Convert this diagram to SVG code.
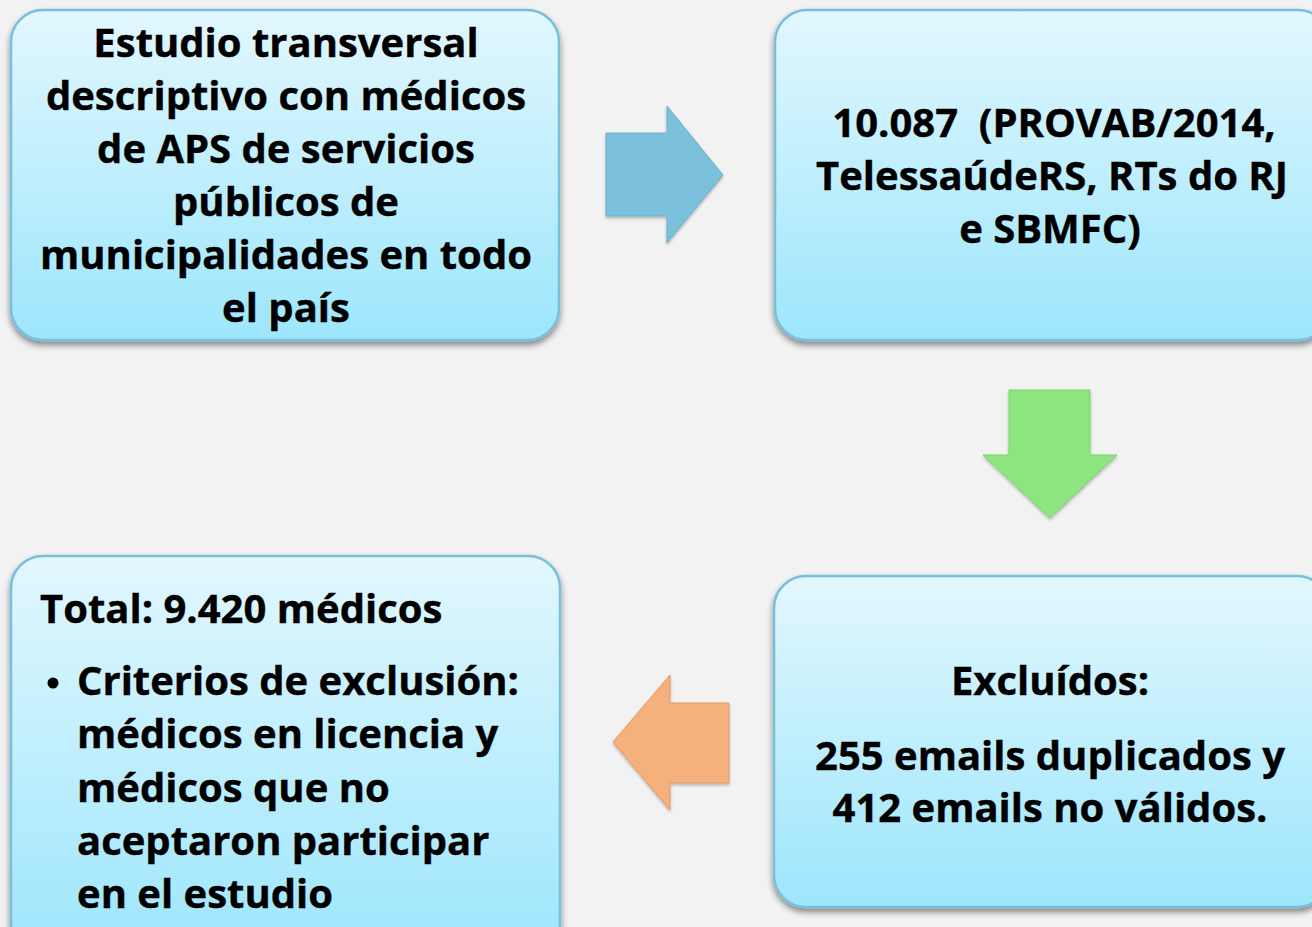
<svg xmlns="http://www.w3.org/2000/svg" width="1312" height="927" viewBox="0 0 1312 927">
<defs>
<linearGradient id="boxGrad" x1="0" y1="0" x2="0" y2="1">
<stop offset="0" stop-color="#e2f7fe"/>
<stop offset="1" stop-color="#9de6fc"/>
</linearGradient>
<filter id="shadow" x="-10%" y="-10%" width="120%" height="125%">
<feGaussianBlur in="SourceAlpha" stdDeviation="3"/>
<feOffset dx="0" dy="4" result="b"/>
<feComponentTransfer><feFuncA type="linear" slope="0.45"/></feComponentTransfer>
<feMerge><feMergeNode/><feMergeNode in="SourceGraphic"/></feMerge>
</filter>
<filter id="bevel" x="-10%" y="-10%" width="120%" height="120%">
<feGaussianBlur in="SourceAlpha" stdDeviation="1.5"/>
<feOffset dx="0" dy="2" result="o"/>
<feComponentTransfer><feFuncA type="linear" slope="0.25"/></feComponentTransfer>
<feMerge><feMergeNode/><feMergeNode in="SourceGraphic"/></feMerge>
</filter>
</defs>
<style>
.box{fill:url(#boxGrad);stroke:#79bedb;stroke-width:2.5;filter:url(#shadow);}
.t{font-family:"Open Sans","Noto Sans","DejaVu Sans",sans-serif;font-weight:700;font-size:40px;fill:#000;stroke:#000;stroke-width:0.4;}
.c{text-anchor:middle;}
</style>
<rect width="1312" height="927" fill="#f2f2f2"/>
<g id="connectors">
<path d="M606,133 H667 V106 L723,175 L667,243 V216 H606 Z" fill="#7cc1dc" stroke="#6aafcc" stroke-width="1" filter="url(#bevel)"/>
<path d="M1009,390 H1090 V455 H1117 L1050,518 L983,455 H1009 Z" fill="#8de57f" stroke="#7cd36f" stroke-width="1" filter="url(#bevel)"/>
<path d="M729,703 H670 V675 L613,742 L670,810 V783 H729 Z" fill="#f5b07b" stroke="#e09b68" stroke-width="1" filter="url(#bevel)"/>
</g>
<g id="node1">
<rect class="box" x="11" y="10" width="548" height="330" rx="32"/>
<text class="t c" x="286" y="57">Estudio transversal</text>
<text class="t c" x="286" y="110">descriptivo con médicos</text>
<text class="t c" x="286" y="163">de APS de servicios</text>
<text class="t c" x="286" y="216">públicos de</text>
<text class="t c" x="286" y="269">municipalidades en todo</text>
<text class="t c" x="286" y="322">el país</text>
</g>
<g id="node2">
<rect class="box" x="775" y="10" width="555" height="330" rx="32"/>
<text class="t c" x="1054" y="137">10.087&#160; (PROVAB/2014,</text>
<text class="t c" x="1052" y="190">TelessaúdeRS, RTs do RJ</text>
<text class="t c" x="1050" y="243">e SBMFC)</text>
</g>
<g id="node3">
<rect class="box" x="774" y="576" width="555" height="331" rx="32"/>
<text class="t c" x="1050" y="695">Excluídos:</text>
<text class="t c" x="1050" y="770">255 emails duplicados y</text>
<text class="t c" x="1050" y="822">412 emails no válidos.</text>
</g>
<g id="node4">
<rect class="box" x="11" y="556" width="549" height="400" rx="32"/>
<text class="t" x="40" y="623">Total: 9.420 médicos</text>
<circle cx="53" cy="683" r="5.5" fill="#000"/>
<text class="t" x="77" y="695">Criterios de exclusión:</text>
<text class="t" x="77" y="748">médicos en licencia y</text>
<text class="t" x="77" y="802">médicos que no</text>
<text class="t" x="77" y="855">aceptaron participar</text>
<text class="t" x="77" y="908">en el estudio</text>
</g>
</svg>
